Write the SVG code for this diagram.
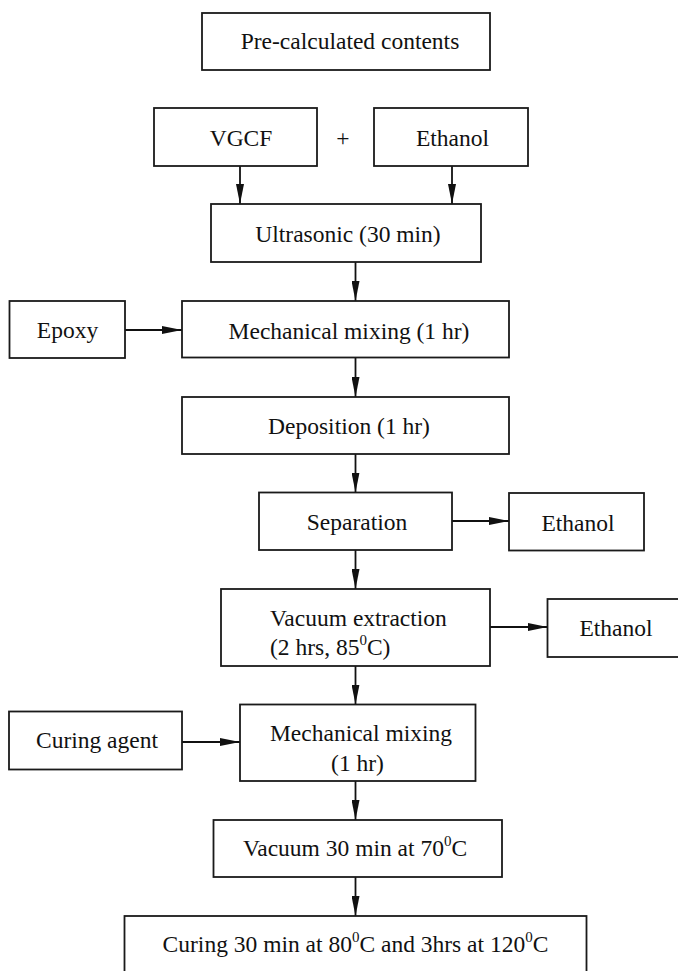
<svg xmlns="http://www.w3.org/2000/svg" width="678" height="971" viewBox="0 0 678 971">
<style>
rect{fill:#fff;stroke:#1a1a1a;stroke-width:1.8}
text{font-family:"Liberation Serif","Times New Roman",serif;font-size:23.5px;fill:#111}
.m{text-anchor:middle}
.s{font-size:15px}
.c line{stroke:#111;stroke-width:1.8;marker-end:url(#ah)}
</style>
<defs>
<marker id="ah" markerUnits="userSpaceOnUse" markerWidth="20" markerHeight="8" refX="20" refY="4" orient="auto">
<path d="M0,0 L20,4 L0,8 Z" fill="#111"/>
</marker>
</defs>
<rect x="0" y="0" width="678" height="971" style="stroke:none"/>
<g class="c" id="connectors">
<line x1="240" y1="166" x2="240" y2="204"/>
<line x1="452" y1="166" x2="452" y2="204"/>
<line x1="355.5" y1="262" x2="355.5" y2="301"/>
<line x1="125" y1="330" x2="182" y2="330"/>
<line x1="355.5" y1="357.5" x2="355.5" y2="397"/>
<line x1="355.5" y1="454" x2="355.5" y2="492.5"/>
<line x1="452" y1="521" x2="509" y2="521"/>
<line x1="355.5" y1="550" x2="355.5" y2="589"/>
<line x1="490" y1="627" x2="547.5" y2="627"/>
<line x1="355.5" y1="666" x2="355.5" y2="704.5"/>
<line x1="182" y1="742" x2="240" y2="742"/>
<line x1="355.5" y1="781" x2="355.5" y2="820"/>
<line x1="355.5" y1="877" x2="355.5" y2="916"/>
</g>
<g id="pre"><rect x="202" y="13" width="288" height="57"/><text class="m" x="350" y="49">Pre-calculated contents</text></g>
<g id="vgcf"><rect x="154" y="108" width="163" height="58"/><text class="m" x="241" y="146">VGCF</text></g>
<g id="plus"><text class="m" x="343" y="146">+</text></g>
<g id="ethanol1"><rect x="374" y="108" width="154" height="58"/><text class="m" x="452.5" y="146">Ethanol</text></g>
<g id="ultrasonic"><rect x="211" y="204" width="270" height="58"/><text class="m" x="348" y="242">Ultrasonic (30 min)</text></g>
<g id="epoxy"><rect x="9.5" y="301" width="115.5" height="57"/><text class="m" x="67.5" y="338">Epoxy</text></g>
<g id="mech1"><rect x="182" y="301" width="327" height="56.5"/><text class="m" x="349" y="339">Mechanical mixing (1 hr)</text></g>
<g id="deposition"><rect x="182" y="397" width="327" height="57"/><text class="m" x="349" y="434">Deposition (1 hr)</text></g>
<g id="separation"><rect x="259" y="492.5" width="193" height="57.5"/><text class="m" x="357" y="529.5">Separation</text></g>
<g id="ethanol2"><rect x="509" y="493" width="135" height="57.5"/><text class="m" x="578" y="530.5">Ethanol</text></g>
<g id="vacext"><rect x="221" y="589" width="269" height="77"/><text x="270" y="625.5">Vacuum extraction</text><text x="270" y="655">(2 hrs, 85<tspan class="s" dy="-10">0</tspan><tspan dy="10">C)</tspan></text></g>
<g id="ethanol3"><rect x="547.5" y="599" width="145" height="58"/><text class="m" x="616" y="636">Ethanol</text></g>
<g id="curagent"><rect x="9" y="711.5" width="173" height="58"/><text class="m" x="97" y="748">Curing agent</text></g>
<g id="mech2"><rect x="240" y="704.5" width="235.5" height="76.5"/><text class="m" x="361" y="741">Mechanical mixing</text><text class="m" x="357.5" y="771">(1 hr)</text></g>
<g id="vac30"><rect x="213.5" y="820" width="288.5" height="57"/><text class="m" x="355" y="856">Vacuum 30 min at 70<tspan class="s" dy="-10">0</tspan><tspan dy="10">C</tspan></text></g>
<g id="curing"><rect x="124.5" y="916" width="462" height="70"/><text class="m" x="355.5" y="951.5">Curing 30 min at 80<tspan class="s" dy="-10">0</tspan><tspan dy="10">C and 3hrs at 120</tspan><tspan class="s" dy="-10">0</tspan><tspan dy="10">C</tspan></text></g>
</svg>
